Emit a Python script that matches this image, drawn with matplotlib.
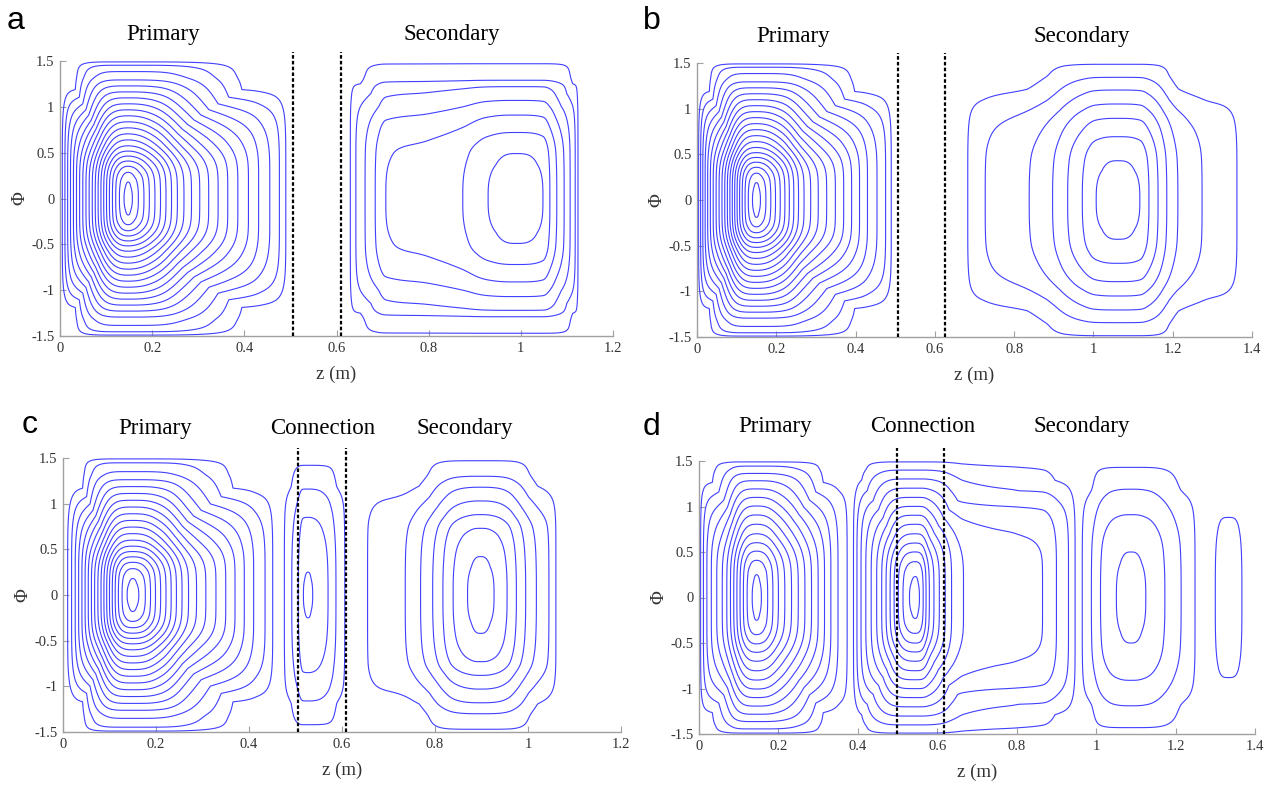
import numpy as np
import matplotlib
matplotlib.use("Agg")
import matplotlib.pyplot as plt
from matplotlib.transforms import blended_transform_factory

# ---------------- data ----------------
# Each vortex cell: z positions where the contour levels cross Phi = 0 with the level there,
# and |Phi| positions where the levels cross the column through the cell's peak.
y_ticks = [-1.5, -1, -0.5, 0, 0.5, 1, 1.5]
y_tick_labels = ["-1.5", "-1", "-0.5", "0", "0.5", "1", "1.5"]
x_ticks_12 = [0, 0.2, 0.4, 0.6, 0.8, 1.0, 1.2]
x_tick_labels_12 = ["0", "0.2", "0.4", "0.6", "0.8", "1", "1.2"]
x_ticks_14 = [0, 0.2, 0.4, 0.6, 0.8, 1.0, 1.2, 1.4]
x_tick_labels_14 = ["0", "0.2", "0.4", "0.6", "0.8", "1", "1.2", "1.4"]

# panel a
a_prim_z = [0.0, 0.005, 0.07, 0.139, 0.148, 0.157, 0.206, 0.269, 0.364, 0.431, 0.49, 0.497]
a_prim_zl = [0, 1, 11, 21, 21.6, 21, 17, 12, 7, 4, 1, 0]
a_prim_p = [0, 0.18, 0.6, 1.0, 1.3, 1.49, 1.5]
a_prim_pl = [21.6, 21, 14.6, 8.5, 3.9, 1, 0]
a_sec_z = [0.622, 0.63, 0.642, 0.662, 0.684, 0.707, 0.80, 0.874, 0.929, 0.99, 1.048, 1.063, 1.078, 1.094, 1.107, 1.118, 1.124, 1.13]
a_sec_zl = [0, 1, 2, 3, 4, 5, 5.4, 6, 7, 7.7, 7, 6, 5, 4, 3, 2, 1, 0]
a_sec_p = [0, 0.49, 0.72, 0.91, 1.07, 1.22, 1.29, 1.47, 1.5]
a_sec_pl = [7.7, 7, 6, 5, 4, 3, 2, 1, 0]
a_dashed = [0.505, 0.61]

# panel b
b_prim_z = [0.0, 0.004, 0.07, 0.14, 0.15, 0.16, 0.21, 0.27, 0.37, 0.43, 0.49, 0.497]
b_prim_zl = [0, 1, 11, 21, 21.6, 21, 17, 12, 7, 4, 1, 0]
b_prim_p = [0, 0.19, 0.6, 1.0, 1.3, 1.49, 1.5]
b_prim_pl = [21.6, 21, 14.6, 8.5, 3.9, 1, 0]
b_sec_z = [0.675, 0.683, 0.727, 0.838, 0.897, 0.935, 0.972, 1.007, 1.062, 1.117, 1.14, 1.163, 1.185, 1.213, 1.274, 1.362, 1.37]
b_sec_zl = [0, 1, 2, 3, 4, 5, 6, 7, 7.6, 7, 6, 5, 4, 3, 2, 1, 0]
b_sec_p = [0, 0.43, 0.693, 0.894, 1.051, 1.204, 1.343, 1.486, 1.5]
b_sec_pl = [7.6, 7, 6, 5, 4, 3, 2, 1, 0]
b_dashed = [0.507, 0.626]

# panel c
c_prim_z = [0.0, 0.01, 0.075, 0.138, 0.15, 0.163, 0.21, 0.27, 0.35, 0.41, 0.451, 0.458]
c_prim_zl = [0, 1, 10, 19, 19.6, 19, 15, 10, 6, 3, 1, 0]
c_prim_p = [0, 0.18, 0.6, 1.0, 1.3, 1.49, 1.5]
c_prim_pl = [19.6, 19, 13, 7.5, 3.5, 1, 0]
c_conn_z = [0.47, 0.476, 0.492, 0.506, 0.517, 0.527, 0.537, 0.570, 0.587, 0.606, 0.612]
c_conn_zl = [0, 1, 2, 3, 4, 4.15, 4, 3, 2, 1, 0]
c_conn_p = [0, 0.25, 0.85, 1.16, 1.42, 1.5]
c_conn_pl = [4.15, 4, 3, 2, 1, 0]
c_sec_z = [0.645, 0.655, 0.736, 0.769, 0.795, 0.817, 0.839, 0.870, 0.898, 0.927, 0.955, 0.975, 0.995, 1.018, 1.045, 1.06, 1.066]
c_sec_zl = [0, 1, 2, 3, 4, 5, 6, 7, 7.6, 7, 6, 5, 4, 3, 2, 1, 0]
c_sec_p = [0, 0.42, 0.73, 0.88, 1.03, 1.18, 1.3, 1.47, 1.5]
c_sec_pl = [7.6, 7, 6, 5, 4, 3, 2, 1, 0]
c_dashed = [0.506, 0.608]

# panel d
d_prim_z = [0.0, 0.004, 0.07, 0.134, 0.145, 0.157, 0.2, 0.25, 0.3, 0.35, 0.373, 0.38]
d_prim_zl = [0, 1, 7, 14, 14.5, 14, 11, 8, 5, 2, 1, 0]
d_prim_p = [0, 0.25, 0.7, 1.1, 1.4, 1.49, 1.5]
d_prim_pl = [14.5, 14, 10, 6, 2.5, 1, 0]
d_conn_z = [0.383, 0.389, 0.46, 0.53, 0.545, 0.555, 0.58, 0.62, 0.636, 0.666, 0.733, 0.80, 0.865, 0.90, 0.947, 0.953]
d_conn_zl = [0, 1, 7, 13, 13.5, 13, 10, 7, 6, 5, 4.5, 4.3, 4, 3, 1, 0]
d_conn_p = [0, 0.23, 0.7, 1.1, 1.4, 1.49, 1.5]
d_conn_pl = [13.5, 13, 9, 5, 2, 1, 0]
d_sec1_z = [0.958, 0.965, 0.988, 1.011, 1.051, 1.088, 1.125, 1.173, 1.214, 1.249, 1.256]
d_sec1_zl = [0, 1, 2, 3, 4, 4.4, 4, 3, 2, 1, 0]
d_sec1_p = [0, 0.5, 0.91, 1.19, 1.43, 1.48]
d_sec1_pl = [4.4, 4, 3, 2, 1, 0]
d_sec2_z = [1.29, 1.3, 1.333, 1.367, 1.377]
d_sec2_zl = [0, 1, 1.25, 1, 0]
d_sec2_p = [0, 0.88, 1.3]
d_sec2_pl = [1.25, 1, 0]
d_dashed = [0.499, 0.617]

# ---------------- helpers ----------------
def pchip(xk, yk, x):
    """monotone cubic interpolation, zero outside the knot range"""
    xk = np.asarray(xk, float)
    yk = np.asarray(yk, float)
    h = np.diff(xk)
    d = np.diff(yk) / h
    n = len(xk)
    m = np.zeros(n)
    for i in range(1, n - 1):
        if d[i - 1] * d[i] > 0:
            w1 = 2 * h[i] + h[i - 1]
            w2 = h[i] + 2 * h[i - 1]
            m[i] = (w1 + w2) / (w1 / d[i - 1] + w2 / d[i])
    m[0] = d[0]
    m[-1] = d[-1]
    x = np.asarray(x, float)
    out = np.zeros_like(x)
    inside = (x >= xk[0]) & (x <= xk[-1])
    xi = x[inside]
    idx = np.clip(np.searchsorted(xk, xi) - 1, 0, n - 2)
    t = (xi - xk[idx]) / h[idx]
    h00 = 2 * t**3 - 3 * t**2 + 1
    h10 = t**3 - 2 * t**2 + t
    h01 = -2 * t**3 + 3 * t**2
    h11 = t**3 - t**2
    out[inside] = (h00 * yk[idx] + h10 * h[idx] * m[idx]
                   + h01 * yk[idx + 1] + h11 * h[idx] * m[idx + 1])
    return out


def cell_field(Z, P, zk, zl, pk, pl, p_out, expo):
    peak = float(max(zl))
    f = np.clip(pchip(zk, zl, Z) / peak, 0, 1)
    pk = np.asarray(pk, float)
    pl = np.asarray(pl, float)
    full_p = np.concatenate([-pk[::-1], pk[1:]])
    full_l = np.concatenate([pl[::-1], pl[1:]]) / pl[0]
    g = np.clip(pchip(full_p, full_l, P), 0, 1)
    x = (1 - f)[None, :] * np.ones((len(P), 1))
    y = (1 - g)[:, None] * np.ones((1, len(Z)))
    M = np.maximum(x, y)
    # smooth peak (p ~ 1) -> conical flanks (p ~ 1.8) -> box-like near the walls
    pw = 1.0 + 0.8 * (1.0 - np.exp(-M / 0.06)) + (p_out - 1.8) * np.clip(M, 0, 1) ** expo
    R = (x ** pw + y ** pw) ** (1.0 / pw)
    return np.clip(peak * (1 - R), 0, None)


panels = [
    dict(letter="a", xmax=1.2, dashed=a_dashed, nlev=21,
         cells=[(a_prim_z, a_prim_zl, a_prim_p, a_prim_pl, 6.0, 5),
                (a_sec_z, a_sec_zl, a_sec_p, a_sec_pl, 6.0, 4)]),
    dict(letter="b", xmax=1.4, dashed=b_dashed, nlev=21,
         cells=[(b_prim_z, b_prim_zl, b_prim_p, b_prim_pl, 6.0, 5),
                (b_sec_z, b_sec_zl, b_sec_p, b_sec_pl, 4.0, 5)]),
    dict(letter="c", xmax=1.2, dashed=c_dashed, nlev=19,
         cells=[(c_prim_z, c_prim_zl, c_prim_p, c_prim_pl, 6.0, 5),
                (c_conn_z, c_conn_zl, c_conn_p, c_conn_pl, 4.5, 4),
                (c_sec_z, c_sec_zl, c_sec_p, c_sec_pl, 4.5, 5)]),
    dict(letter="d", xmax=1.4, dashed=d_dashed, nlev=14,
         cells=[(d_prim_z, d_prim_zl, d_prim_p, d_prim_pl, 6.0, 5),
                (d_conn_z, d_conn_zl, d_conn_p, d_conn_pl, 6.0, 3),
                (d_sec1_z, d_sec1_zl, d_sec1_p, d_sec1_pl, 4.5, 5),
                (d_sec2_z, d_sec2_zl, d_sec2_p, d_sec2_pl, 1.8, 4)]),
]

# layout (pixels of the 1271 x 791 figure): left, right, top, bottom of each axes
W, H = 1271, 791
axes_px = [(60, 613, 61, 336), (697, 1252, 63, 337), (63, 621, 458, 732), (699, 1255, 461, 734)]
titles = [
    [("Primary", 0.224), ("Secondary", 0.851)],
    [("Primary", 0.242), ("Secondary", 0.971)],
    [("Primary", 0.198), ("Connection", 0.559), ("Secondary", 0.865)],
    [("Primary", 0.191), ("Connection", 0.562), ("Secondary", 0.965)],
]
title_y = [1.095, 1.095, 1.109, 1.128]
letter_px = [(16, 21), (652, 21), (30, 425), (652, 427)]
dash_top = [1.60, 1.61, 1.61, 1.64]

serif = ["Liberation Serif", "DejaVu Serif"]
line_color = "#4040ff"
spine_color = "#a0a0a0"
text_color = "#333333"

fig = plt.figure(figsize=(W / 100, H / 100), dpi=100)

for i, pnl in enumerate(panels):
    l, r, t, b = axes_px[i]
    ax = fig.add_axes([l / W, 1 - b / H, (r - l) / W, (b - t) / H])
    z = np.linspace(0, pnl["xmax"], 1401)
    p = np.linspace(-1.5, 1.5, 901)
    field = np.zeros((len(p), len(z)))
    for zk, zl, pk, pl, p_out, expo in pnl["cells"]:
        field += cell_field(z, p, zk, zl, pk, pl, p_out, expo)
    levels = np.arange(1, pnl["nlev"] + 1)
    ax.contour(z, p, field, levels=levels, colors=line_color, linewidths=0.8)

    for xd in pnl["dashed"]:
        ax.plot([xd, xd], [-1.5, dash_top[i]], color="black", lw=1.6,
                linestyle=(0, (1.6, 1.0)), clip_on=False, zorder=5)

    ax.set_xlim(0, pnl["xmax"])
    ax.set_ylim(-1.5, 1.5)
    if pnl["xmax"] > 1.3:
        ax.set_xticks(x_ticks_14)
        ax.set_xticklabels(x_tick_labels_14)
    else:
        ax.set_xticks(x_ticks_12)
        ax.set_xticklabels(x_tick_labels_12)
    ax.set_yticks(y_ticks)
    ax.set_yticklabels(y_tick_labels)
    for s in ["top", "right"]:
        ax.spines[s].set_visible(False)
    for s in ["left", "bottom"]:
        ax.spines[s].set_color(spine_color)
        ax.spines[s].set_linewidth(1.0)
    ax.tick_params(direction="in", length=4, width=0.8, color=spine_color,
                   labelcolor=text_color, labelsize=10.5, pad=4)
    for lab in ax.get_xticklabels() + ax.get_yticklabels():
        lab.set_family(serif)
    ax.set_xlabel("z (m)", fontsize=13.5, family=serif, color=text_color, labelpad=8)
    ax.set_ylabel("Φ", fontsize=13.5, family=serif, color=text_color, labelpad=2)

    tr = blended_transform_factory(ax.transData, ax.transAxes)
    for txt, xpos in titles[i]:
        ax.text(xpos, title_y[i], txt, transform=tr, ha="center", va="center",
                fontsize=16.5, family=serif, color="black")
    lx, ly = letter_px[i]
    fig.text(lx / W, 1 - ly / H, pnl["letter"], ha="center", va="center",
             fontsize=23, family=["Liberation Sans", "DejaVu Sans"], color="black")

fig.savefig("out.png", dpi=100)
